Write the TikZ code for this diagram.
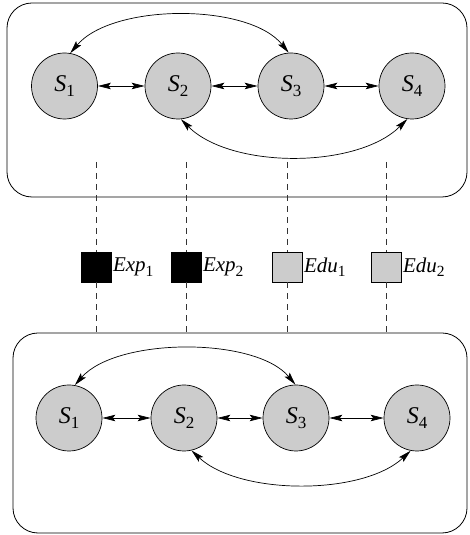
\documentclass[tikz,border=0pt]{standalone}
\usepackage{fontspec}
\setmainfont{Liberation Serif}
\usetikzlibrary{arrows.meta}
\definecolor{nodegray}{HTML}{CCCCCC}
\newcommand{\slab}[2]{\fontsize{24}{24}\selectfont\textit{#1}\raisebox{-5pt}{\fontsize{17}{17}\selectfont #2}}
\newcommand{\elab}[2]{\fontsize{21}{21}\selectfont\textit{#1}\raisebox{-4.5pt}{\fontsize{15.5}{15.5}\selectfont #2}}
\begin{document}
\begin{tikzpicture}[x=1pt,y=1pt,
  state/.style={circle,draw,line width=0.7pt,fill=nodegray,minimum size=66pt,inner sep=0pt},
  frame/.style={draw,line width=0.8pt,rounded corners=25pt},
  link/.style={line width=0.7pt,{Stealth[length=13pt,width=6.5pt,inset=2.5pt]}-{Stealth[length=13pt,width=6.5pt,inset=2.5pt]}},
  obs/.style={draw,line width=0.7pt,minimum size=30pt,inner sep=0pt},
  obslabel/.style={anchor=west,inner sep=1.5pt},
  tie/.style={line width=0.6pt,black!80,dash pattern=on 6pt off 5pt}]
\useasboundingbox (0,0) rectangle (470,535);
% frames
\draw[frame] (7,338) rectangle (467,532);
\draw[frame] (13,2) rectangle (467,202);
% top row
\node[state] (a1) at (64.5,449) {\slab{S}{1}};
\node[state] (a2) at (178,449) {\slab{S}{2}};
\node[state] (a3) at (291,449) {\slab{S}{3}};
\node[state] (a4) at (412,449) {\slab{S}{4}};
\draw[link] (a1) -- (a2);
\draw[link] (a2) -- (a3);
\draw[link] (a3) -- (a4);
\draw[link] (a1.80) .. controls +(42,50) and +(-40,50) .. (a3.94);
\draw[link] (a2.-85) .. controls +(50,-50) and +(-50,-50) .. (a4.-98);
% bottom row
\node[state] (b1) at (69,117) {\slab{S}{1}};
\node[state] (b2) at (184,117) {\slab{S}{2}};
\node[state] (b3) at (296,117) {\slab{S}{3}};
\node[state] (b4) at (417,117) {\slab{S}{4}};
\draw[link] (b1) -- (b2);
\draw[link] (b2) -- (b3);
\draw[link] (b3) -- (b4);
\draw[link] (b1.80) .. controls +(42,48) and +(-40,48) .. (b3.91);
\draw[link] (b2.-77) .. controls +(48,-45) and +(-48,-45) .. (b4.-101);
% observation squares
\node[obs,fill=black] (e1) at (96,268) {};
\node[obs,fill=black] (e2) at (186,268) {};
\node[obs,fill=nodegray] (d1) at (287,268) {};
\node[obs,fill=nodegray] (d2) at (386,268) {};
\node[obslabel] (le1) at (e1.east) {\elab{Exp}{1}};
\node[obslabel] (le2) at (e2.east) {\elab{Exp}{2}};
\node[obslabel] (ld1) at (d1.east) {\elab{Edu}{1}};
\node[obslabel] (ld2) at (d2.east) {\elab{Edu}{2}};
% tie endpoints
\foreach \n/\x in {e1/96,e2/186,d1/287,d2/386}{
  \coordinate (\n t) at (\x,373);
  \coordinate (\n b) at (\x,202);
  \draw[tie] (\n t) -- (\n.north);
  \draw[tie] (\n.south) -- (\n b);
}
\end{tikzpicture}
\end{document}
